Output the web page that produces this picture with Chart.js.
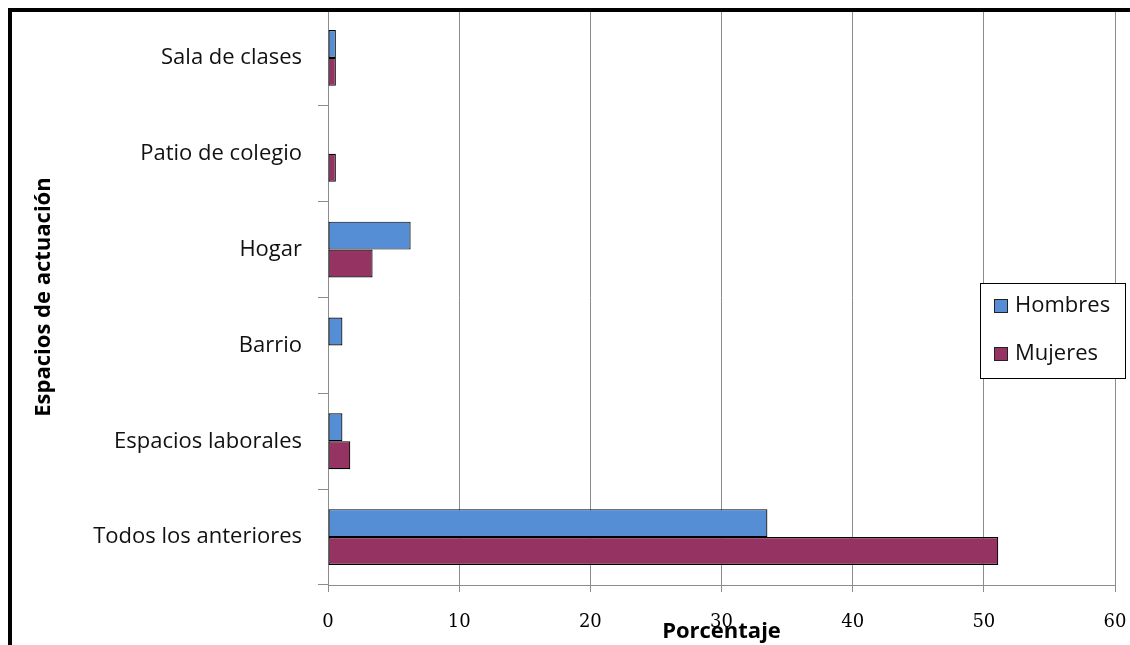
<!DOCTYPE html>
<html>
<head>
<meta charset="utf-8">
<script src="https://cdn.jsdelivr.net/npm/chart.js@4"></script>
<style>
  html, body { margin: 0; padding: 0; background: #fff; }
  #wrap { position: relative; width: 1130px; height: 645px; }
</style>
</head>
<body>
<div id="wrap"><canvas id="c" width="1130" height="645"></canvas></div>
<script>
// Espacios de actuación, porcentaje por sexo
const categories = ['Sala de clases', 'Patio de colegio', 'Hogar', 'Barrio', 'Espacios laborales', 'Todos los anteriores'];
const hombres = [0.6, 0, 6.3, 1.1, 1.1, 33.5];
const mujeres = [0.6, 0.6, 3.4, 0, 1.7, 51.1];
const xTicks = [0, 10, 20, 30, 40, 50, 60];
const seriesNames = ['Hombres', 'Mujeres'];

const LABEL_FONT = '"Open Sans", "Noto Sans", sans-serif';
const NUM_FONT = '"DejaVu Serif", "Liberation Serif", serif';
const LABEL_SIZE = 22;

// Thick frame on the left and top edges
const framePlugin = {
  id: 'frame',
  afterDraw(chart) {
    const ctx = chart.ctx;
    ctx.save();
    ctx.fillStyle = '#000';
    ctx.fillRect(8, 8, 4, chart.height - 8);
    ctx.fillRect(8, 8, chart.width - 8, 4);
    ctx.restore();
  }
};

// Axis titles drawn relative to the chart area
const titlesPlugin = {
  id: 'axisTitles',
  afterDraw(chart) {
    const ctx = chart.ctx;
    const a = chart.chartArea;
    ctx.save();
    ctx.fillStyle = '#000';
    ctx.font = 'bold ' + LABEL_SIZE + 'px ' + LABEL_FONT;
    ctx.textAlign = 'center';
    ctx.textBaseline = 'middle';
    ctx.fillText('Porcentaje', (a.left + a.right) / 2, 632);
    ctx.translate(44, 297);
    ctx.rotate(-Math.PI / 2);
    ctx.fillText('Espacios de actuación', 0, 0);
    ctx.restore();
  }
};

// Boxed legend inside the plot area
const legendBoxPlugin = {
  id: 'legendBox',
  afterDraw(chart) {
    const ctx = chart.ctx;
    const x0 = 980, y0 = 283, w = 145, h = 95;
    ctx.save();
    ctx.fillStyle = '#fff';
    ctx.fillRect(x0, y0, w, h);
    ctx.strokeStyle = '#000';
    ctx.lineWidth = 1;
    ctx.strokeRect(x0 + 0.5, y0 + 0.5, w, h);
    chart.data.datasets.forEach((ds, i) => {
      const cy = 306 + i * 48;
      ctx.fillStyle = ds.backgroundColor;
      ctx.fillRect(994, cy - 7, 14, 14);
      ctx.strokeStyle = '#222';
      ctx.strokeRect(994.5, cy - 6.5, 13, 13);
      ctx.fillStyle = '#111';
      ctx.font = LABEL_SIZE + 'px ' + LABEL_FONT;
      ctx.textAlign = 'left';
      ctx.textBaseline = 'middle';
      ctx.fillText(ds.label, 1015, cy);
    });
    ctx.restore();
  }
};

new Chart(document.getElementById('c'), {
  type: 'bar',
  data: {
    labels: categories,
    datasets: [
      { label: seriesNames[0], data: hombres, backgroundColor: '#558ED5', borderColor: '#000',
        borderWidth: (c) => (c.raw ? 1.2 : 0), borderSkipped: false },
      { label: seriesNames[1], data: mujeres, backgroundColor: '#953462', borderColor: '#000',
        borderWidth: (c) => (c.raw ? 1.2 : 0), borderSkipped: false }
    ]
  },
  options: {
    indexAxis: 'y',
    responsive: false,
    animation: false,
    layout: { padding: { top: 10, right: 15, left: 0, bottom: 0 } },
    categoryPercentage: 0.583,
    barPercentage: 1,
    plugins: { legend: { display: false }, tooltip: { enabled: false }, title: { display: false } },
    scales: {
      x: {
        min: 0, max: 60,
        afterBuildTicks: (s) => { s.ticks = xTicks.map(v => ({ value: v })); },
        afterFit: (s) => { s.height = 60; s.paddingLeft = 0; s.paddingRight = 0; },
        grid: { color: '#8c8c8c', lineWidth: 1, tickLength: 7, drawTicks: true },
        border: { color: '#8c8c8c' },
        ticks: { color: '#000', font: { family: NUM_FONT, size: 18 }, padding: 20 }
      },
      y: {
        afterFit: (s) => { s.width = 328; s.paddingTop = 0; s.paddingBottom = 0; },
        grid: { drawOnChartArea: false, drawTicks: true, tickLength: 10, color: '#8c8c8c', offset: true },
        border: { color: '#8c8c8c' },
        ticks: { color: '#111', font: { family: LABEL_FONT, size: LABEL_SIZE }, padding: 16 }
      }
    }
  },
  plugins: [framePlugin, titlesPlugin, legendBoxPlugin]
});
</script>
</body>
</html>
